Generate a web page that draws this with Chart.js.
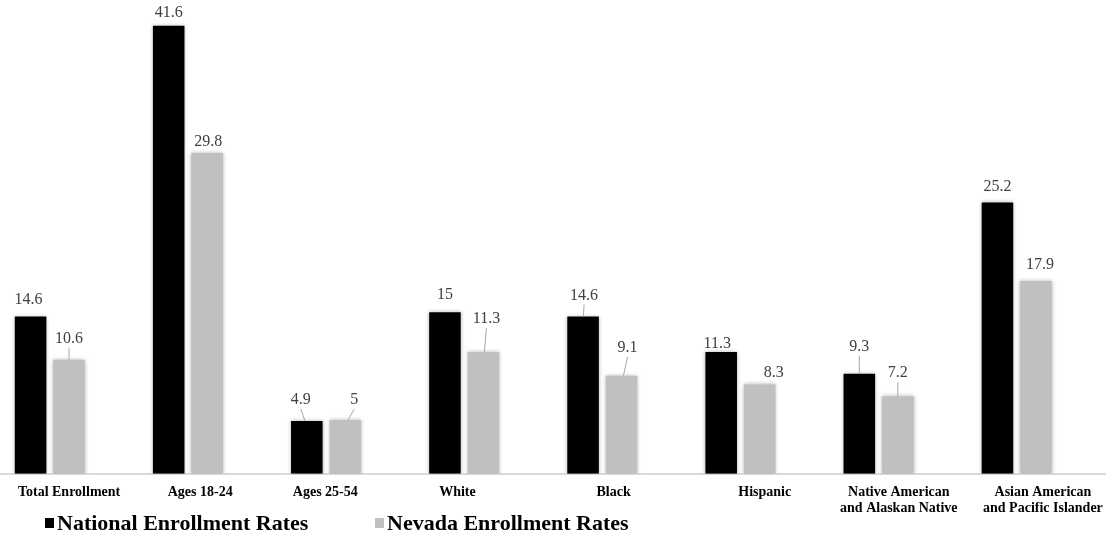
<!DOCTYPE html>
<html>
<head>
<meta charset="utf-8">
<script src="https://cdn.jsdelivr.net/npm/chart.js@4.4.1/dist/chart.umd.min.js"></script>
<style>
  body { margin: 0; background: #fff; }
  #wrap { position: relative; width: 1115px; height: 553px; }
  #legend { position: absolute; left: 0; top: 510px; font: bold 22px "Liberation Serif", "Times New Roman", serif; color: #000; }
  .item { position: absolute; white-space: nowrap; }
  .swatch { display: inline-block; width: 9px; height: 10px; margin-right: 3px; vertical-align: 2px; }
</style>
</head>
<body>
<div id="wrap">
  <canvas id="enrollChart"></canvas>
  <div id="legend"></div>
</div>
<script>
const categories = [
  "Total Enrollment", "Ages 18-24", "Ages 25-54", "White", "Black", "Hispanic",
  ["Native American", "and Alaskan Native"], ["Asian American", "and Pacific Islander"]
];
const nationalRates = [14.6, 41.6, 4.9, 15, 14.6, 11.3, 9.3, 25.2];
const nevadaRates = [10.6, 29.8, 5, 11.3, 9.1, 8.3, 7.2, 17.9];
const seriesNames = ["National Enrollment Rates", "Nevada Enrollment Rates"];
const seriesColors = ["#000000", "#c0c0c0"];

const serif = '"Liberation Serif", "Times New Roman", serif';

// value label placement: [shift x, rise above bar top, leader line]
const labelPlacement = [
  [[-2, 17, 0], [0, 13, 0], [-6, 21, 1], [0, 17, 0], [1, 21, 1], [-4, 8, 0], [0, 27, 1], [0, 16, 0]],
  [[0, 21, 1], [1, 11, 0], [9, 20, 1], [3, 33, 1], [6, 28, 1], [14, 12, 0], [0, 23, 1], [4, 16, 0]]
];
// category labels sit a little off their tick in the source layout
const tickShift = [0, -7, -20, -26, -8, 5, 1, 7];

const valueLabels = {
  id: "valueLabels",
  beforeDatasetsDraw(chart) {
    const ctx = chart.ctx;
    ctx.save();
    ctx.shadowColor = "rgba(0,0,0,0.3)";
    ctx.shadowBlur = 4;
  },
  afterDatasetsDraw(chart) {
    const ctx = chart.ctx;
    ctx.restore();
    ctx.save();
    ctx.font = "16px " + serif;
    ctx.fillStyle = "#404040";
    ctx.textAlign = "center";
    ctx.textBaseline = "middle";
    ctx.strokeStyle = "#a6a6a6";
    ctx.lineWidth = 1;
    [0, 1].forEach(di => {
      const meta = chart.getDatasetMeta(di);
      const values = chart.data.datasets[di].data;
      meta.data.forEach((bar, i) => {
        const [dx, rise, leader] = labelPlacement[di][i];
        const tx = bar.x + dx;
        const ty = bar.y - rise;
        if (leader) {
          ctx.beginPath();
          ctx.moveTo(tx, ty + 9);
          ctx.lineTo(bar.x + dx * 0.3, bar.y);
          ctx.stroke();
        }
        ctx.fillText(String(values[i]), tx, ty);
      });
    });
    ctx.restore();
  },
  afterDraw(chart) {
    // category names under the axis
    const ctx = chart.ctx;
    const xs = chart.scales.x;
    ctx.save();
    ctx.font = "bold 14px " + serif;
    ctx.fillStyle = "#000";
    ctx.textAlign = "center";
    ctx.textBaseline = "middle";
    chart.data.labels.forEach((lab, i) => {
      const lines = Array.isArray(lab) ? lab : [lab];
      const x = xs.getPixelForTick(i) + tickShift[i];
      lines.forEach((line, j) => ctx.fillText(line, x, xs.top + 19 + j * 16));
    });
    ctx.restore();
  }
};

new Chart(document.getElementById("enrollChart"), {
  type: "bar",
  data: {
    labels: categories,
    datasets: [
      { label: seriesNames[0], data: nationalRates, backgroundColor: seriesColors[0] },
      { label: seriesNames[1], data: nevadaRates, backgroundColor: seriesColors[1] },
      { label: "", data: categories.map(() => null), backgroundColor: "transparent" }
    ]
  },
  options: {
    responsive: true,
    maintainAspectRatio: false,
    animation: false,
    categoryPercentage: 0.836,
    barPercentage: 0.82,
    layout: { padding: { left: 0, right: 10, top: 0, bottom: 21 } },
    plugins: { legend: { display: false }, tooltip: { enabled: false } },
    scales: {
      x: {
        grid: { display: false, drawTicks: false },
        border: { color: "#d9d9d9", width: 2 },
        ticks: {
          color: "rgba(0,0,0,0)",
          padding: 13,
          maxRotation: 0,
          autoSkip: false,
          font: { family: serif, size: 14, weight: "bold", lineHeight: 1.15 }
        }
      },
      y: { display: false, min: 0, max: 44 }
    }
  },
  plugins: [valueLabels]
});

// legend row under the axis
const legend = document.getElementById("legend");
const legendLeft = [45, 375];
seriesNames.forEach((name, i) => {
  const item = document.createElement("div");
  item.className = "item";
  item.style.left = legendLeft[i] + "px";
  item.innerHTML = '<span class="swatch" style="background:' + seriesColors[i] + '"></span>' + name;
  legend.appendChild(item);
});
</script>
</body>
</html>
